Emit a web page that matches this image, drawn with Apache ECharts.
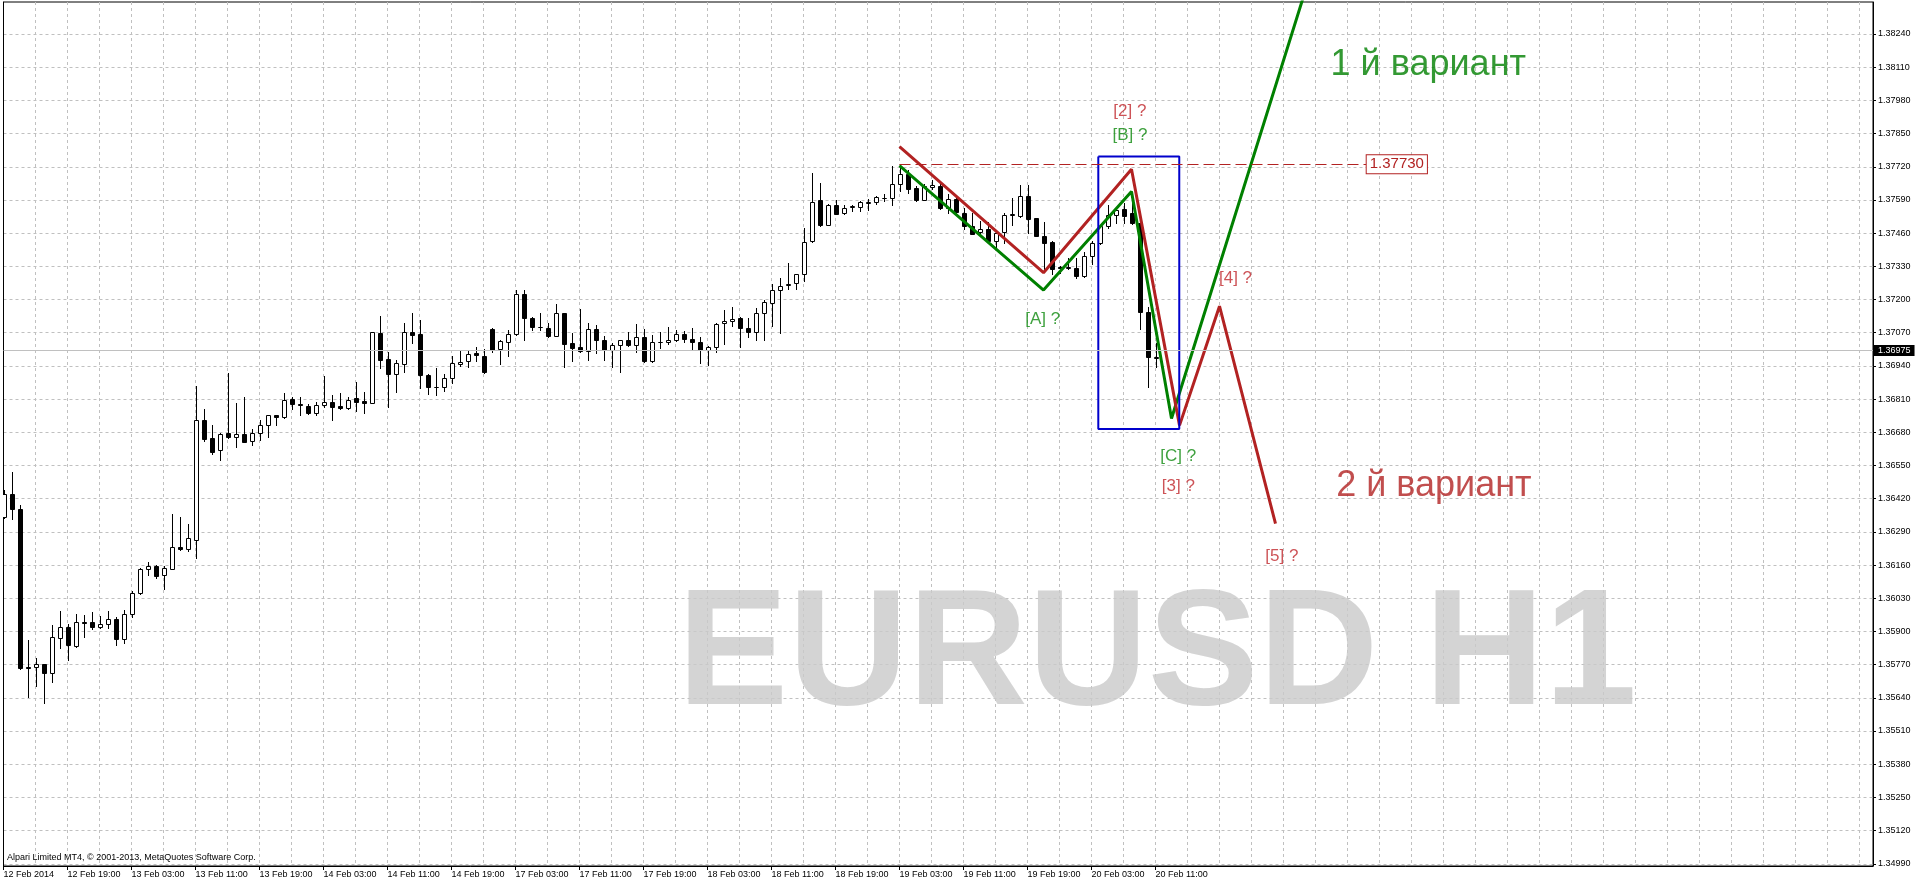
<!DOCTYPE html>
<html><head><meta charset="utf-8">
<script src="https://cdn.jsdelivr.net/npm/echarts@6/dist/echarts.min.js"></script>
<style>html,body{margin:0;padding:0;background:#fff}#c{width:1916px;height:884px}</style>
</head><body><div id="c"></div>
<script>
// ---- data (EURUSD H1, bar 0 = 12 Feb 2014 11:00) ----
const timeLabels = ["12 Feb 2014","12 Feb 19:00","13 Feb 03:00","13 Feb 11:00","13 Feb 19:00","14 Feb 03:00","14 Feb 11:00","14 Feb 19:00","17 Feb 03:00","17 Feb 11:00","17 Feb 19:00","18 Feb 03:00","18 Feb 11:00","18 Feb 19:00","19 Feb 03:00","19 Feb 11:00","19 Feb 19:00","20 Feb 03:00","20 Feb 11:00"];
const labelBars = [0,8,16,24,32,40,48,56,64,72,80,88,96,104,112,120,128,136,144];
const priceTicks = [1.34990,1.35120,1.35250,1.35380,1.35510,1.35640,1.35770,1.35900,1.36030,1.36160,1.36290,1.36420,1.36550,1.36680,1.36810,1.36940,1.37070,1.37200,1.37330,1.37460,1.37590,1.37720,1.37850,1.37980,1.38110,1.38240];

const opens = [
1.36347,1.36440,1.36378,1.35759,1.35759,1.35771,1.35738,1.35873,1.35916,1.35844,
1.35937,1.35935,1.35919,1.35928,1.35947,1.35872,1.35970,1.36052,1.36143,1.36156,
1.36120,1.36146,1.36229,1.36221,1.36260,1.36730,1.36656,1.36609,1.36679,1.36660,
1.36672,1.36644,1.36679,1.36707,1.36747,1.36739,1.36809,1.36792,1.36782,1.36754,
1.36785,1.36797,1.36782,1.36776,1.36813,1.36801,1.36793,1.37070,1.36966,1.36909,
1.36948,1.37074,1.37063,1.36906,1.36858,1.36857,1.36894,1.36949,1.36961,1.36990,
1.36979,1.37083,1.37006,1.37032,1.37064,1.37222,1.37127,1.37092,1.37088,1.37059,
1.37147,1.37029,1.37014,1.36997,1.37083,1.37043,1.37001,1.37020,1.37041,1.37020,
1.37053,1.36958,1.37032,1.37032,1.37042,1.37064,1.37046,1.37033,1.37003,1.37014,
1.37108,1.37117,1.37127,1.37088,1.37072,1.37147,1.37186,1.37238,1.37258,1.37265,
1.37298,1.37430,1.37589,1.37492,1.37572,1.37538,1.37563,1.37564,1.37578,1.37583,
1.37596,1.37599,1.37654,1.37690,1.37635,1.37590,1.37641,1.37646,1.37559,1.37592,
1.37540,1.37486,1.37463,1.37478,1.37430,1.37463,1.37530,1.37527,1.37605,1.37518,
1.37450,1.37426,1.37329,1.37325,1.37322,1.37291,1.37372,1.37420,1.37487,1.37530,
1.37555,1.37537,1.37500,1.37150,1.36972];
const closes = [
1.36440,1.36378,1.35755,1.35756,1.35774,1.35738,1.35877,1.35916,1.35848,1.35935,
1.35932,1.35919,1.35928,1.35947,1.35872,1.35970,1.36052,1.36144,1.36156,1.36118,
1.36148,1.36229,1.36221,1.36264,1.36730,1.36655,1.36604,1.36672,1.36660,1.36672,
1.36643,1.36679,1.36707,1.36746,1.36738,1.36808,1.36792,1.36785,1.36754,1.36785,
1.36797,1.36780,1.36777,1.36808,1.36800,1.36796,1.37074,1.36963,1.36909,1.36950,
1.37074,1.37061,1.36905,1.36857,1.36859,1.36894,1.36950,1.36957,1.36987,1.36981,
1.36917,1.37002,1.37037,1.37064,1.37222,1.37126,1.37091,1.37091,1.37059,1.37147,
1.37027,1.37012,1.36997,1.37083,1.37043,1.37001,1.37023,1.37041,1.37020,1.37053,
1.36958,1.37032,1.37035,1.37042,1.37064,1.37045,1.37033,1.37001,1.37014,1.37106,
1.37117,1.37123,1.37088,1.37072,1.37147,1.37190,1.37237,1.37251,1.37262,1.37298,
1.37427,1.37583,1.37492,1.37572,1.37536,1.37560,1.37565,1.37580,1.37581,1.37603,
1.37599,1.37654,1.37690,1.37634,1.37590,1.37644,1.37650,1.37559,1.37592,1.37543,
1.37486,1.37456,1.37478,1.37430,1.37459,1.37532,1.37533,1.37605,1.37516,1.37450,
1.37421,1.37320,1.37323,1.37327,1.37291,1.37369,1.37420,1.37486,1.37530,1.37550,
1.37529,1.37500,1.37153,1.36975,1.36975];
const lows = [
1.36343,1.36339,1.35753,1.35642,1.35686,1.35618,1.35703,1.35836,1.35790,1.35840,
1.35879,1.35908,1.35914,1.35914,1.35848,1.35853,1.35957,1.36048,1.36122,1.36110,
1.36067,1.36143,1.36218,1.36216,1.36186,1.36647,1.36594,1.36570,1.36657,1.36624,
1.36640,1.36631,1.36649,1.36660,1.36707,1.36734,1.36772,1.36749,1.36751,1.36747,
1.36780,1.36730,1.36772,1.36772,1.36764,1.36754,1.36793,1.36933,1.36780,1.36839,
1.36917,1.37028,1.36852,1.36831,1.36826,1.36841,1.36872,1.36940,1.36936,1.36958,
1.36914,1.36993,1.36946,1.36979,1.37061,1.37040,1.37079,1.37081,1.37055,1.37059,
1.36936,1.36958,1.36994,1.36962,1.36990,1.36962,1.36937,1.36915,1.37018,1.36993,
1.36956,1.36956,1.37010,1.37027,1.37036,1.37032,1.37001,1.36950,1.36944,1.36993,
1.37027,1.37098,1.37014,1.37053,1.37040,1.37040,1.37096,1.37070,1.37241,1.37241,
1.37274,1.37424,1.37488,1.37490,1.37533,1.37533,1.37547,1.37547,1.37551,1.37573,
1.37586,1.37569,1.37624,1.37616,1.37586,1.37589,1.37631,1.37555,1.37538,1.37540,
1.37478,1.37456,1.37456,1.37421,1.37395,1.37421,1.37490,1.37524,1.37461,1.37450,
1.37307,1.37300,1.37304,1.37320,1.37283,1.37287,1.37339,1.37417,1.37481,1.37500,
1.37500,1.37497,1.37083,1.36858,1.36936];
const highs = [
1.36453,1.36524,1.36394,1.35866,1.35794,1.35772,1.35925,1.35979,1.35928,1.35970,
1.35964,1.35975,1.35960,1.35979,1.35955,1.35983,1.36058,1.36147,1.36172,1.36159,
1.36157,1.36359,1.36347,1.36320,1.36860,1.36772,1.36708,1.36676,1.36912,1.36794,
1.36817,1.36691,1.36727,1.36747,1.36749,1.36832,1.36818,1.36817,1.36792,1.36799,
1.36900,1.36825,1.36833,1.36820,1.36876,1.36839,1.37074,1.37134,1.36993,1.36963,
1.37107,1.37146,1.37121,1.36909,1.36933,1.36909,1.36977,1.37004,1.37000,1.37013,
1.37006,1.37087,1.37040,1.37081,1.37238,1.37238,1.37130,1.37147,1.37108,1.37183,
1.37149,1.37070,1.37164,1.37108,1.37101,1.37056,1.37030,1.37042,1.37073,1.37104,
1.37086,1.37062,1.37073,1.37094,1.37081,1.37078,1.37088,1.37053,1.37016,1.37108,
1.37160,1.37170,1.37130,1.37127,1.37166,1.37199,1.37262,1.37284,1.37343,1.37300,
1.37482,1.37694,1.37655,1.37576,1.37589,1.37570,1.37572,1.37586,1.37595,1.37605,
1.37612,1.37723,1.37723,1.37709,1.37644,1.37654,1.37670,1.37657,1.37612,1.37606,
1.37559,1.37540,1.37508,1.37502,1.37473,1.37540,1.37597,1.37647,1.37650,1.37520,
1.37502,1.37429,1.37333,1.37361,1.37361,1.37385,1.37431,1.37489,1.37572,1.37563,
1.37579,1.37592,1.37503,1.37170,1.37030];

const currentPrice = 1.36975;
const levelPrice = 1.37730;
const levelBars = [112, 170.4];
// wave drawings: [bar index, price]
const redWave = [[112,1.37799],[130,1.37305],[141,1.37710],[147,1.36707],[152,1.37174],[159,1.36322]];
const greenWave = [[112,1.37724],[130,1.37237],[141,1.37623],[146,1.36734],[163,1.38437]];
const boxBars = [136.85, 146.97];
const boxPrices = [1.36693, 1.37760];
// annotations: [text, bar index, price]
const redNotes = [["[2] ?",140.8,1.37939],["[3] ?",146.85,1.36469],["[4] ?",154,1.37284],["[5] ?",159.8,1.36196]];
const greenNotes = [["[B] ?",140.8,1.37843],["[A] ?",129.9,1.37124],["[C] ?",146.85,1.36587]];
const variant1 = ["1 й вариант",178.1,1.38119];
const variant2 = ["2 й вариант",178.8,1.36468];
const watermark = ["EURUSD H1",144.2,1.35795];
const copyright = "Alpari Limited MT4, © 2001-2013, MetaQuotes Software Corp.";

// ---- chart ----
const FONT = "'Liberation Sans', Arial, sans-serif";
const X_MIN = 0, X_MAX = 233.6875;
const Y_MIN = 1.349812, Y_MAX = 1.383653;
const RED = '#B22222', GREEN = '#008000', BLUE = '#0000CC', GRIDC = '#C0C0C0';

const candleData = opens.map((o, i) => [i, o, closes[i], lows[i], highs[i]]);

function renderCandle(params, api) {
  const i = api.value(0), o = api.value(1), c = api.value(2), l = api.value(3), h = api.value(4);
  const pO = api.coord([i, o]), pC = api.coord([i, c]), pL = api.coord([i, l]), pH = api.coord([i, h]);
  const x = Math.round(pO[0]);
  const yTop = Math.round(Math.min(pO[1], pC[1]));
  const yBot = Math.round(Math.max(pO[1], pC[1]));
  const bull = c >= o;
  return {
    type: 'group',
    children: [
      { type: 'line', shape: { x1: x + 0.5, y1: Math.round(pH[1]), x2: x + 0.5, y2: Math.round(pL[1]) + 1 },
        style: { stroke: '#000', lineWidth: 1 } },
      { type: 'rect', shape: { x: x - 2 + 0.5, y: yTop + 0.5, width: 4, height: Math.max(yBot - yTop, 0) },
        style: { fill: bull ? '#fff' : '#000', stroke: '#000', lineWidth: 1 } }
    ]
  };
}

function noteSeries(notes, color, size, weight) {
  return {
    type: 'scatter', silent: true, symbolSize: 0, z: 5,
    itemStyle: { color: 'transparent' },
    data: notes.map(n => ({ value: [n[1], n[2]], name: n[0] })),
    label: { show: true, position: 'inside', formatter: p => p.name, color: color,
             fontSize: size, fontFamily: FONT, fontWeight: weight || 'normal' }
  };
}

const chart = echarts.init(document.getElementById('c'), null, { renderer: 'canvas' });
chart.setOption({
  animation: false,
  backgroundColor: '#fff',
  grid: { left: 3.5, top: 2, width: 1869.5, height: 864, show: true, borderColor: '#000', borderWidth: 1,
          backgroundColor: '#fff', containLabel: false, outerBoundsMode: 'none' },
  xAxis: [
    { type: 'value', min: X_MIN, max: X_MAX, interval: 4,
      axisLine: { show: true, onZero: false, lineStyle: { color: '#000', width: 1 } },
      axisTick: { show: false }, axisLabel: { show: false },
      splitLine: { show: true, showMinLine: false, showMaxLine: false,
                   lineStyle: { color: GRIDC, width: 1, type: [3, 3] } } },
    { type: 'value', min: X_MIN, max: X_MAX, position: 'bottom',
      axisLine: { show: false, onZero: false },
      axisTick: { show: true, length: 4, customValues: labelBars, lineStyle: { color: '#000' } },
      axisLabel: { show: true, customValues: labelBars, align: 'left', margin: 4, fontSize: 9,
                   fontFamily: FONT, color: '#000',
                   formatter: v => timeLabels[labelBars.indexOf(Math.round(v))] || '' },
      splitLine: { show: false } }
  ],
  yAxis: [
    { type: 'value', position: 'right', min: Y_MIN, max: Y_MAX, scale: true,
      axisLine: { show: true, onZero: false, lineStyle: { color: '#000', width: 1 } },
      axisTick: { show: true, length: 3, customValues: priceTicks, lineStyle: { color: '#000' } },
      axisLabel: { show: true, customValues: priceTicks, margin: 5, fontSize: 9, fontFamily: FONT, color: '#000',
                   formatter: v => v.toFixed(5) },
      splitLine: { show: true, lineStyle: { color: GRIDC, width: 1, type: [3, 3] } } },
    { type: 'value', position: 'left', min: Y_MIN, max: Y_MAX, scale: true,
      axisLine: { show: true, onZero: false, lineStyle: { color: '#000', width: 1 } },
      axisTick: { show: false }, axisLabel: { show: false }, splitLine: { show: false } }
  ],
  graphic: [
    { type: 'text', left: 7, top: 853, silent: true, z: 10,
      style: { text: copyright, fill: '#000', font: '9px ' + FONT } }
  ],
  series: [
    noteSeries([watermark], '#C9C9C9', 166, 'bold'),
    { type: 'custom', name: 'EURUSD', renderItem: renderCandle, data: candleData, clip: true, silent: true,
      encode: { x: 0, y: [1, 2, 3, 4] }, z: 3 },
    { type: 'line', data: greenWave, symbol: 'none', silent: true, clip: true, z: 4,
      lineStyle: { color: GREEN, width: 3 } },
    { type: 'line', data: redWave, symbol: 'none', silent: true, clip: true, z: 4,
      lineStyle: { color: RED, width: 3 },
      markLine: {
        silent: true, symbol: ['none', 'none'], animation: false,
        data: [
          [ { coord: [levelBars[0], levelPrice], lineStyle: { color: RED, width: 1, type: [11, 5] },
              label: { show: true, position: 'end', distance: 0, formatter: levelPrice.toFixed(5),
                       color: RED, fontSize: 15, fontFamily: FONT, backgroundColor: '#fff',
                       borderColor: RED, borderWidth: 1, padding: [2, 3, 1, 3] } },
            { coord: [levelBars[1], levelPrice] } ],
          { yAxis: currentPrice, lineStyle: { color: GRIDC, width: 1, type: 'solid' },
            label: { show: true, position: 'end', distance: 1, formatter: currentPrice.toFixed(5),
                     color: '#fff', backgroundColor: '#000', fontSize: 9, fontFamily: FONT, padding: [1, 4, 1, 4] } }
        ]
      } },
    { type: 'line', silent: true, symbol: 'none', clip: true, z: 4,
      data: [[boxBars[0], boxPrices[1]], [boxBars[1], boxPrices[1]], [boxBars[1], boxPrices[0]],
             [boxBars[0], boxPrices[0]], [boxBars[0], boxPrices[1]]],
      lineStyle: { color: BLUE, width: 2 } },
    noteSeries(redNotes, '#C0282D', 17),
    noteSeries(greenNotes, '#0E8A0E', 17),
    noteSeries([variant1], GREEN, 36),
    noteSeries([variant2], RED, 36)
  ]
});
</script></body></html>
